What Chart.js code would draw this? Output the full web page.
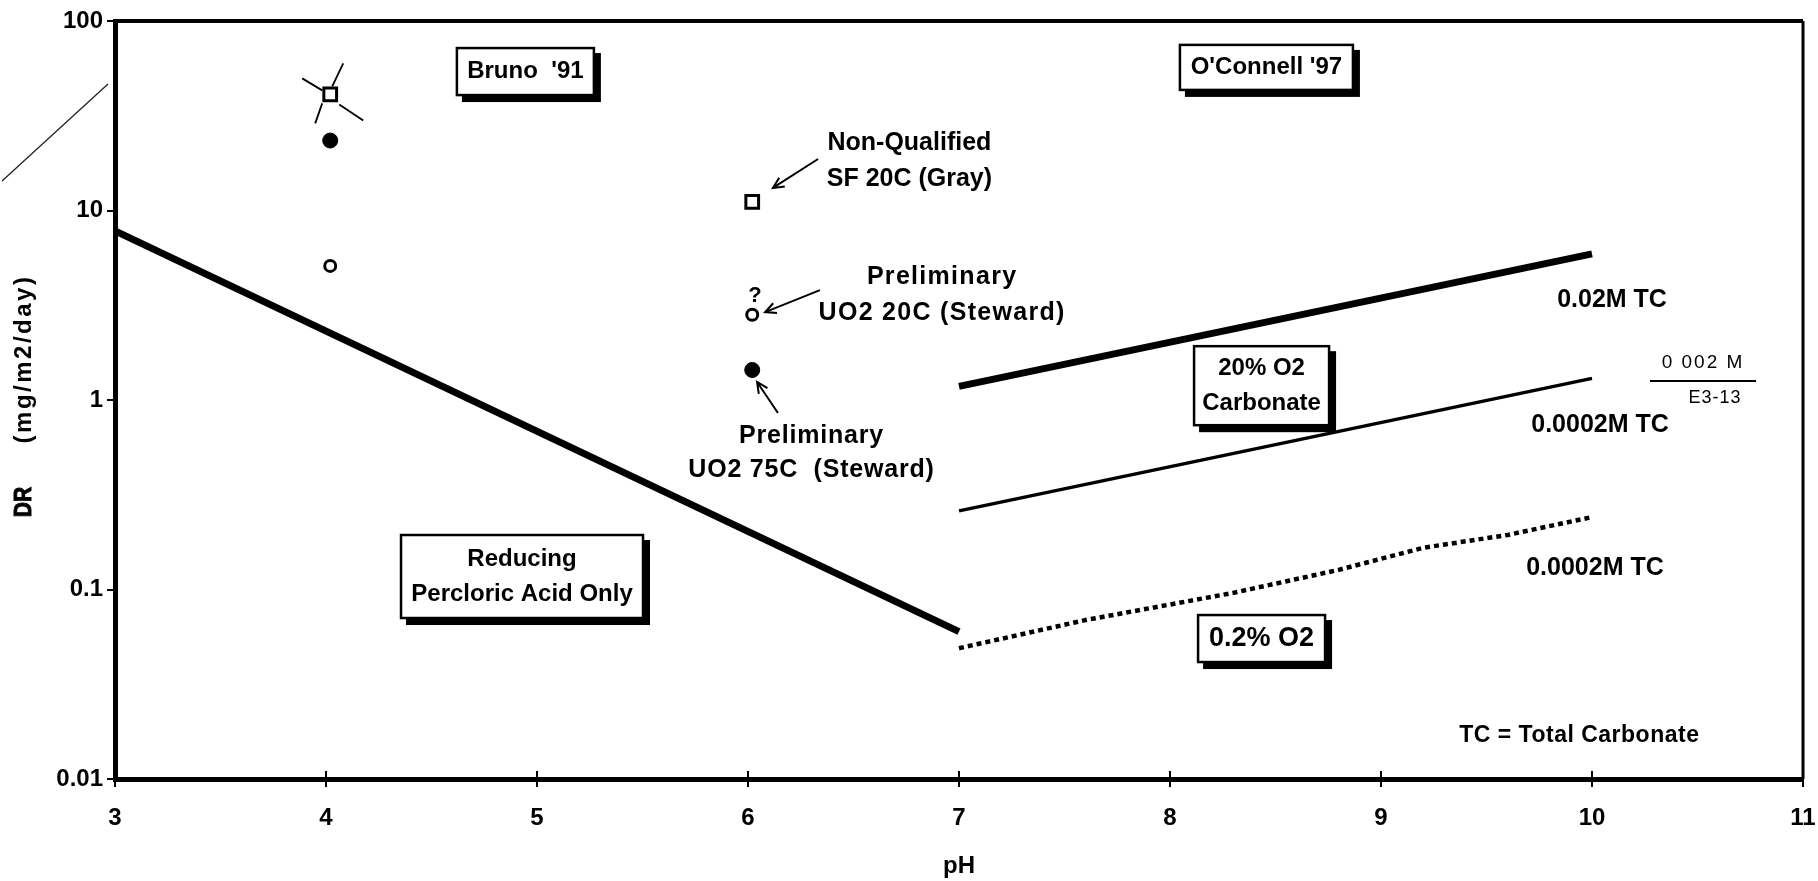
<!DOCTYPE html>
<html>
<head>
<meta charset="utf-8">
<title>DR vs pH</title>
<script src="https://cdn.jsdelivr.net/npm/chart.js@4.4.1/dist/chart.umd.min.js"></script>
<style>
  html, body { margin: 0; padding: 0; background: #fff; }
  #chart { display: block; }
</style>
</head>
<body>
<canvas id="chart" width="1818" height="881"></canvas>
<script>
// axis ticks
const phTicks = [3, 4, 5, 6, 7, 8, 9, 10, 11];
const drTicks = [0.01, 0.1, 1, 10, 100];
const drTickLabels = ["0.01", "0.1", "1", "10", "100"];

// Reducing, perchloric acid only
const reducingPH = [3, 7];
const reducingDR = [7.8, 0.06];

// 20% O2, 0.02M TC
const tc02PH = [7, 10];
const tc02DR = [1.18, 5.9];

// 20% O2, 0.0002M TC
const tc0002PH = [7, 10];
const tc0002DR = [0.26, 1.3];

// 0.2% O2, 0.0002M TC
const lowO2PH = [7.0, 7.6, 8.3, 8.8, 9.2, 9.6, 10.0];
const lowO2DR = [0.049, 0.069, 0.096, 0.127, 0.166, 0.194, 0.241];

// measured points
const squarePH = [4.02, 6.02];
const squareDR = [41, 11.1];
const filledPH = [4.02, 6.02];
const filledDR = [23.4, 1.44];
const openPH = [4.02, 6.02];
const openDR = [5.1, 2.82];

const FONT = '"Liberation Sans", Arial, sans-serif';

function pts(xs, ys) {
  return xs.map((x, i) => ({ x: x, y: ys[i] }));
}

function lineSet(xs, ys, width, dash) {
  return {
    data: pts(xs, ys),
    showLine: true,
    borderColor: "#000",
    borderWidth: width,
    borderDash: dash || [],
    pointRadius: 0,
    tension: 0,
    fill: false
  };
}

// text notes, anchored in data coordinates
const notes = [
  { x: 4.945, y: 54.1, lines: ["Bruno  '91"], box: [137, 47], size: 24 },
  { x: 8.457, y: 56.9, lines: ["O'Connell '97"], box: [173, 45], size: 24 },
  { x: 8.434, y: 1.19, lines: ["20% O2", "Carbonate"], box: [135, 79], size: 24, gap: 35 },
  { x: 8.434, y: 0.0551, lines: ["0.2% O2"], box: [127, 47], size: 27 },
  { x: 4.929, y: 0.1171, lines: ["Reducing", "Percloric Acid Only"], box: [242, 83], size: 24, gap: 35 },
  { x: 6.765, y: 18.2, lines: ["Non-Qualified", "SF 20C (Gray)"], size: 25, gap: 36 },
  { x: 6.92, y: 3.58, lines: ["Preliminary", "UO2 20C (Steward)"], size: 25, gap: 36, spacing: 1.3 },
  { x: 6.301, y: 0.525, lines: ["Preliminary", "UO2 75C  (Steward)"], size: 25, gap: 34, spacing: 0.8 },
  { x: 6.033, y: 3.54, lines: ["?"], size: 22 },
  { x: 10.095, y: 3.37, lines: ["0.02M TC"], size: 25 },
  { x: 10.038, y: 0.738, lines: ["0.0002M TC"], size: 25 },
  { x: 10.014, y: 0.130, lines: ["0.0002M TC"], size: 25 },
  { x: 9.94, y: 0.01686, lines: ["TC = Total Carbonate"], size: 23, spacing: 0.5 }
];

// arrows: [fromPH, fromDR, toPH, toDR]
const arrows = [
  [6.332, 18.7, 6.118, 13.15],
  [6.341, 3.80, 6.081, 2.91],
  [6.142, 0.854, 6.043, 1.245]
];

const annotate = {
  id: "annotate",
  afterDatasetsDraw(chart) {
    const ctx = chart.ctx;
    const xs = chart.scales.x;
    const ys = chart.scales.y;
    const area = chart.chartArea;
    ctx.save();

    // top and right frame
    ctx.strokeStyle = "#000";
    ctx.lineWidth = 4;
    ctx.beginPath();
    ctx.moveTo(area.left - 2, area.top);
    ctx.lineTo(area.right, area.top);
    ctx.stroke();
    ctx.lineWidth = 3;
    ctx.beginPath();
    ctx.moveTo(area.right, area.top);
    ctx.lineTo(area.right, area.bottom);
    ctx.stroke();

    // x ticks crossing into the plot
    ctx.lineWidth = 2;
    phTicks.forEach(v => {
      const px = xs.getPixelForValue(v);
      ctx.beginPath();
      ctx.moveTo(px, area.bottom);
      ctx.lineTo(px, area.bottom - 8);
      ctx.stroke();
    });

    // notes
    ctx.textAlign = "center";
    ctx.textBaseline = "middle";
    notes.forEach(n => {
      const cx = xs.getPixelForValue(n.x);
      const cy = ys.getPixelForValue(n.y);
      if (n.box) {
        const w = n.box[0], h = n.box[1];
        ctx.fillStyle = "#000";
        ctx.fillRect(cx - w / 2 + 5, cy - h / 2 + 5, w + 2, h + 2);
        ctx.fillStyle = "#fff";
        ctx.fillRect(cx - w / 2, cy - h / 2, w, h);
        ctx.lineWidth = 2.5;
        ctx.strokeStyle = "#000";
        ctx.strokeRect(cx - w / 2, cy - h / 2, w, h);
      }
      ctx.fillStyle = "#000";
      ctx.font = "bold " + n.size + "px " + FONT;
      ctx.letterSpacing = (n.spacing || 0) + "px";
      const gap = n.gap || 0;
      const y0 = cy - gap * (n.lines.length - 1) / 2;
      n.lines.forEach((t, i) => ctx.fillText(t, cx, y0 + i * gap));
      ctx.letterSpacing = "0px";
    });

    // arrows
    ctx.strokeStyle = "#000";
    ctx.lineWidth = 2;
    arrows.forEach(a => {
      const x1 = xs.getPixelForValue(a[0]), y1 = ys.getPixelForValue(a[1]);
      const x2 = xs.getPixelForValue(a[2]), y2 = ys.getPixelForValue(a[3]);
      const ang = Math.atan2(y2 - y1, x2 - x1);
      ctx.beginPath();
      ctx.moveTo(x1, y1);
      ctx.lineTo(x2, y2);
      ctx.moveTo(x2 - 12 * Math.cos(ang - 0.45), y2 - 12 * Math.sin(ang - 0.45));
      ctx.lineTo(x2, y2);
      ctx.lineTo(x2 - 12 * Math.cos(ang + 0.45), y2 - 12 * Math.sin(ang + 0.45));
      ctx.stroke();
    });

    // hand marks around the Bruno square
    const bx = xs.getPixelForValue(squarePH[0]);
    const by = ys.getPixelForValue(squareDR[0]);
    ctx.lineWidth = 1.8;
    [[-28, -16, -8, -4], [13, -31, 2, -8], [9, 10, 33, 26], [-8, 9, -15, 29]].forEach(s => {
      ctx.beginPath();
      ctx.moveTo(bx + s[0], by + s[1]);
      ctx.lineTo(bx + s[2], by + s[3]);
      ctx.stroke();
    });

    // handwritten margin note
    const hx = xs.getPixelForValue(10.526);
    const hy = ys.getPixelForValue(1.259);
    ctx.font = "19px " + FONT;
    ctx.letterSpacing = "2px";
    ctx.fillText("0 002 M", hx, hy - 18);
    ctx.font = "18px " + FONT;
    ctx.letterSpacing = "1px";
    ctx.fillText("E3-13", hx + 12, hy + 17);
    ctx.letterSpacing = "0px";
    ctx.lineWidth = 2;
    ctx.beginPath();
    ctx.moveTo(hx - 53, hy);
    ctx.lineTo(hx + 53, hy);
    ctx.stroke();

    ctx.restore();
  },
  afterDraw(chart) {
    const ctx = chart.ctx;
    const area = chart.chartArea;
    ctx.save();

    // y axis title, drawn by hand for the wide spacing of the original
    const mid = (area.top + area.bottom) / 2;
    ctx.translate(24, 0);
    ctx.rotate(-Math.PI / 2);
    ctx.fillStyle = "#000";
    ctx.strokeStyle = "#000";
    ctx.textAlign = "center";
    ctx.textBaseline = "middle";
    ctx.font = "bold 24px " + FONT;
    ctx.letterSpacing = "2.5px";
    ctx.fillText("(mg/m2/day)", -(mid - 41), 0);
    ctx.letterSpacing = "0px";
    ctx.save();
    ctx.translate(-(mid + 102), 0);
    ctx.scale(0.88, 1);
    ctx.lineWidth = 1;
    ctx.fillText("DR", 0, 0);
    ctx.strokeText("DR", 0, 0);
    ctx.restore();
    ctx.restore();

    // stray pen line left of the axis
    ctx.save();
    ctx.strokeStyle = "#222";
    ctx.lineWidth = 1.3;
    ctx.beginPath();
    ctx.moveTo(2, 181);
    ctx.lineTo(108, 84);
    ctx.stroke();
    ctx.restore();
  }
};

const tickFont = { family: FONT, weight: "bold", size: 24 };

new Chart(document.getElementById("chart"), {
  type: "scatter",
  data: {
    datasets: [
      lineSet(reducingPH, reducingDR, 7),
      lineSet(tc02PH, tc02DR, 7),
      lineSet(tc0002PH, tc0002DR, 3.5),
      lineSet(lowO2PH, lowO2DR, 4.5, [5, 4]),
      {
        data: pts(squarePH, squareDR),
        pointStyle: "rect",
        pointRadius: 9,
        borderWidth: 3,
        borderColor: "#000",
        backgroundColor: "#fff"
      },
      {
        data: pts(filledPH, filledDR),
        pointStyle: "circle",
        pointRadius: 7.5,
        borderWidth: 1,
        borderColor: "#000",
        backgroundColor: "#000"
      },
      {
        data: pts(openPH, openDR),
        pointStyle: "circle",
        pointRadius: 5.5,
        borderWidth: 3,
        borderColor: "#000",
        backgroundColor: "#fff"
      }
    ]
  },
  options: {
    responsive: false,
    animation: false,
    layout: { padding: { top: 21, right: 15, left: 0, bottom: 0 } },
    plugins: {
      legend: { display: false },
      tooltip: { enabled: false }
    },
    scales: {
      x: {
        type: "linear",
        min: 3,
        max: 11,
        afterBuildTicks: s => { s.ticks = phTicks.map(v => ({ value: v })); },
        afterFit: s => { s.height = 102; s.paddingLeft = 0; s.paddingRight = 0; },
        ticks: { color: "#000", font: tickFont, padding: 17, maxRotation: 0 },
        grid: { drawOnChartArea: false, tickLength: 8, lineWidth: 2, color: "#000" },
        border: { width: 5, color: "#000" },
        title: {
          display: true,
          text: "pH",
          color: "#000",
          font: { family: FONT, weight: "bold", size: 24 },
          padding: { top: 0, bottom: 0 }
        }
      },
      y: {
        type: "logarithmic",
        min: 0.01,
        max: 100,
        afterBuildTicks: s => { s.ticks = drTicks.map(v => ({ value: v })); },
        afterFit: s => { s.width = 115; s.paddingTop = 0; s.paddingBottom = 0; },
        ticks: {
          color: "#000",
          font: tickFont,
          padding: 4,
          callback: v => {
            const i = drTicks.indexOf(v);
            return i >= 0 ? drTickLabels[i] : "";
          }
        },
        grid: { drawOnChartArea: false, tickLength: 8, lineWidth: 2, color: "#000" },
        border: { width: 5, color: "#000" },
        title: { display: false }
      }
    }
  },
  plugins: [annotate]
});
</script>
</body>
</html>
